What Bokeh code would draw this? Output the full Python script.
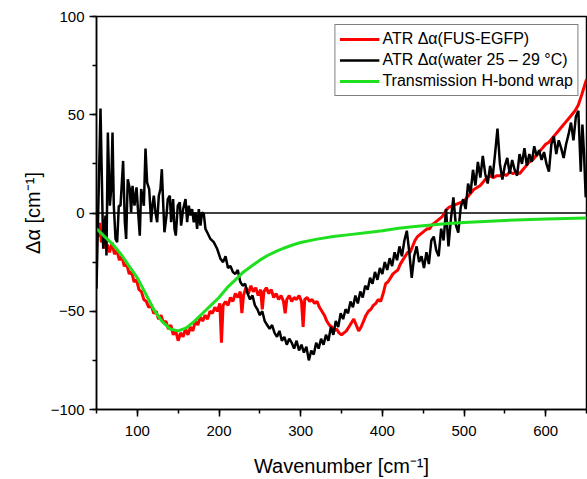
from bokeh.plotting import figure
from bokeh.models import Span, SingleIntervalTicker, Legend, LegendItem, Range1d
from bokeh.embed import file_html
from bokeh.resources import INLINE

# ---- data ----
red_x = [50, 52, 54, 56, 58, 60, 63, 66, 69, 72, 75, 78, 81, 84, 87, 90, 93, 96, 99, 102,
         105, 108, 111, 114, 117, 120, 123, 126, 129, 132, 135, 138, 141, 144, 147, 150,
         153, 156, 159, 162, 165, 168, 171, 174, 177, 180, 183, 186, 189, 192, 195, 198,
         201, 203, 205, 208, 211, 214, 217, 220, 223, 226, 228, 230, 233, 236, 239, 242,
         245, 248, 251, 253, 255, 258, 261, 264, 267, 270, 273, 276, 279, 281, 283, 286,
         289, 292, 295, 298, 301, 303, 305, 308, 311, 314, 317, 320, 323, 326, 329, 332,
         335, 338, 341, 344, 347, 350, 353, 356, 359, 362, 365, 368, 371, 374, 377, 380,
         383, 386, 389, 392, 395, 398, 401, 404, 407, 410, 413, 416, 419, 422, 425, 428,
         431, 434, 437, 440, 443, 446, 449, 452, 455, 458, 461, 464, 467, 470, 473, 476,
         479, 482, 485, 488, 491, 494, 497, 500, 504, 508, 512, 516, 520, 524, 528, 532,
         536, 540, 544, 548, 552, 556, 560, 564, 568, 572, 576, 580, 584, 588, 592, 596,
         600, 604, 608, 612, 616, 620, 624, 628, 632, 636, 640, 644, 647, 650]
red_y = [-8, -12, -5, -15, -13, -18, -16, -20, -15, -21, -19, -24, -22, -27, -26, -31, -30,
         -35, -34, -39, -40, -44, -45, -48, -47, -51, -50, -54, -52, -56, -55, -59, -57,
         -62, -60, -65, -61, -63, -59, -62, -58, -60, -55, -57, -53, -55, -52, -54, -50,
         -51, -48, -50, -46, -66, -47, -45, -47, -43, -45, -41, -43, -40, -51, -42, -38,
         -41, -37, -40, -38, -42, -39, -49, -40, -38, -41, -39, -43, -41, -44, -42, -45,
         -51, -44, -42, -45, -43, -44, -42, -45, -58, -44, -43, -45, -44, -46, -45, -48,
         -50, -52, -55, -57, -58, -60, -59, -61, -62, -61, -60, -58, -56, -54, -57, -60,
         -58, -55, -52, -50, -49, -47, -46, -44, -45, -41, -36, -35, -33, -31, -30, -29,
         -26, -24, -22, -20, -20, -17, -14, -12, -11, -10, -9, -8, -8, -6, -5, -4, -3, -2,
         0, 2, 3, 3.5, 4, 4.5, 5, 5.5, 6, 8, 10, 12, 13, 14, 16, 18, 19, 18, 19, 19, 20,
         19, 21, 20, 21, 20, 22, 24, 26, 27, 29, 31, 33, 35, 36, 38, 40, 42, 44, 46, 48,
         50, 52, 55, 60, 64, 68]

black_x = [50.0, 54.9, 58.2, 61.0, 62.2, 63.9, 66.3, 68.0, 69.6, 71.2, 73.3, 75.3, 77.3,
           79.4, 82.6, 84.7, 86.3, 88.3, 90.8, 92.4, 94.1, 96.5, 99.0, 101.0, 103.0,
           104.7, 108.0, 110.0, 112.0, 114.5, 116.9, 118.5, 120.2, 122.2, 124.3, 126.3,
           128.3, 130.0, 131.6, 133.2, 135.7, 137.3, 139.8, 141.4, 143.8, 145.5, 147.1,
           149.5, 152.0, 153.6, 156.1, 159.0, 161.0, 163.0, 165.1, 167.1, 169.1, 171.2,
           173.2, 175.3, 177.3, 179.3, 181.4, 183.4, 185.5, 189.5, 193.6, 197.7, 201.8,
           205, 208, 211, 214, 217, 220, 223, 226, 229, 232, 235, 238, 241, 244, 247, 250,
           253, 256, 259, 262, 265, 268, 271, 274, 277, 280, 283, 286, 289, 292, 295, 298,
           301, 304, 307, 310, 313, 316, 319, 322, 325, 328, 331, 334, 337, 340, 343, 346,
           349, 352, 355, 358, 361, 364, 367, 370, 373, 376, 379, 382, 385, 388, 391, 394,
           397, 400, 403, 406, 409, 412, 415, 418, 421, 424, 427, 430, 433, 436, 439, 442,
           445, 448, 451, 454, 457, 460, 463, 466, 469, 472, 475, 478, 481, 484, 487, 490,
           493, 496, 499, 502, 505, 508, 511, 514, 517, 520, 523, 526, 529, 532, 535, 538,
           541, 544, 547, 550, 553, 556, 559, 562, 565, 568, 571, 574, 577, 580, 583, 586,
           589, 592, 595, 598, 601, 604, 607, 610, 613, 616, 619, 622, 625, 628, 631, 634,
           637, 640, 643, 645, 647, 649, 650]
black_y = [-38.5, 53.2, -18.2, -1.3, -21.6, 40.9, 3.7, 12.2, 40.9, 3.7, -13.2, -14.8, 3.7,
           3.7, 26.5, -4.7, -13.2, 17.2, 12.2, 0.3, 13.8, 3.7, 13.0, 0.3, -11.5, 12.2, 3.7,
           32.8, 15.5, 12.2, -4.7, 3.7, 8.8, 0.3, -4.7, 8.8, 12.2, 22.3, 5.4, -9.8, -1.3,
           7.1, 8.8, -4.7, 7.1, -8.1, -11.5, 3.7, 5.4, -6.4, 2.0, 7.1, -4.7, 3.7, -1.3,
           2.0, -4.7, 0.3, -8.1, 2.0, -6.4, 0.3, -0.5, -8.1, -9.8, -13.2, -14.8, -18.2,
           -23.3, -25, -22, -28, -27, -30, -31, -29, -35, -37, -36, -41, -44, -42, -47,
           -49, -52, -50, -55, -57, -59, -57, -61, -63, -60, -65, -63, -67, -64, -66, -69,
           -65, -70, -67, -71, -68, -75, -70, -72, -66, -69, -64, -67, -62, -65, -58, -62,
           -55, -58, -51, -54, -49, -51, -45, -48, -42, -46, -40, -43, -37, -39, -33, -36,
           -30, -34, -28, -31, -25, -29, -23, -27, -20, -24, -17, -22, -14, -9, -20, -33,
           -22, -17, -25, -22, -28, -20, -26, -14, -12, -19, -22, -8, -14, 2, -17, -3, 8,
           -6, -10, 3, 7, 2, 15, 10, 22, 14, 26, 18, 29, 20, 15, 24, 18, 30, 43, 25, 17,
           24, 28, 20, 27, 22, 19, 30, 25, 33, 24, 30, 26, 34, 29, 32, 27, 31, 25, 21, 35,
           39, 30, 37, 33, 28, 35, 40, 46, 37, 49, 52, 21, 45, 30, 8, 12]

green_x = [50, 60, 70, 80, 90, 100, 110, 120, 130, 140, 150, 160, 170, 180, 190, 200, 210,
           220, 230, 240, 250, 260, 270, 280, 290, 300, 320, 340, 360, 380, 400, 420, 440,
           460, 480, 500, 550, 600, 650]
green_y = [-8, -12, -16, -21, -27, -33, -41, -49, -55, -59, -60, -58.5, -55, -51, -47, -43,
           -38, -34, -30, -27, -24, -21.5, -19.5, -17.8, -16.3, -15, -13.3, -12, -11,
           -10, -9, -7.8, -6.9, -6.1, -5.4, -4.8, -3.8, -3.1, -2.5]

labels = ["ATR \u0394\u03b1(FUS-EGFP)",
          "ATR \u0394\u03b1(water 25 \u2013 29 \u00b0C)",
          "Transmission H-bond wrap"]

FONT = "Liberation Sans"

p = figure(width=587, height=479, output_backend="svg", toolbar_location=None,
           x_range=Range1d(50, 650), y_range=Range1d(-100, 100),
           min_border_left=96, min_border_top=16, min_border_right=1, min_border_bottom=68)
p.background_fill_color = "white"
p.border_fill_color = "white"
p.grid.visible = False
p.outline_line_color = "black"
p.outline_line_width = 1.5

p.add_layout(Span(location=0, dimension="width", line_color="black", line_width=1.5,
                  level="underlay"))

r_red = p.line(red_x, red_y, line_color="#ff0000", line_width=3)
r_black = p.line(black_x, black_y, line_color="black", line_width=2.5)
r_green = p.line(green_x, green_y, line_color="#1ee01e", line_width=3)

p.xaxis.ticker = SingleIntervalTicker(interval=100, num_minor_ticks=2)
p.yaxis.ticker = SingleIntervalTicker(interval=50, num_minor_ticks=2)

for ax in (p.xaxis[0], p.yaxis[0]):
    ax.axis_line_width = 1.5
    ax.axis_line_color = "black"
    ax.major_tick_line_width = 1.5
    ax.minor_tick_line_width = 1.5
    ax.major_tick_in = 0
    ax.major_tick_out = 7
    ax.minor_tick_in = 0
    ax.minor_tick_out = 4
    ax.major_label_text_font = FONT
    ax.major_label_text_font_size = "15px"
    ax.major_label_text_color = "black"
    ax.axis_label_text_font = FONT
    ax.axis_label_text_font_size = "20px"
    ax.axis_label_text_font_style = "normal"
    ax.axis_label_text_color = "black"

p.xaxis.axis_label = "Wavenumber [cm\u207b\u00b9]"
p.yaxis.axis_label = "\u0394\u03b1 [cm\u207b\u00b9]"
p.xaxis.major_label_standoff = 9
p.yaxis.major_label_standoff = 5
p.xaxis.axis_label_standoff = 16
p.yaxis.axis_label_standoff = 4

legend = Legend(items=[LegendItem(label=labels[0], renderers=[r_red]),
                       LegendItem(label=labels[1], renderers=[r_black]),
                       LegendItem(label=labels[2], renderers=[r_green])],
                location="top_right")
legend.margin = 8
legend.padding = 4
legend.spacing = 1
legend.glyph_width = 40
legend.glyph_height = 20
legend.label_height = 20
legend.label_standoff = 3
legend.label_text_font = FONT
legend.label_text_font_size = "16px"
legend.label_text_color = "black"
legend.border_line_color = "black"
legend.border_line_width = 1.5
legend.background_fill_color = "white"
legend.background_fill_alpha = 1
p.add_layout(legend)

open("out.html", "w").write(file_html(p, INLINE))
